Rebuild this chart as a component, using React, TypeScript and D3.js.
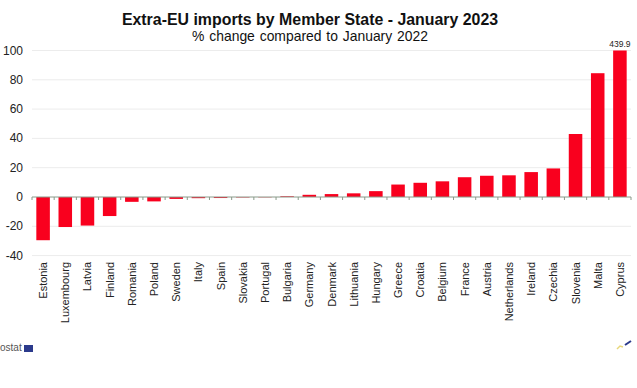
import React from "react";
import * as d3 from "d3";

const categories = ["Estonia","Luxembourg","Latvia","Finland","Romania","Poland","Sweden","Italy","Spain","Slovakia","Portugal","Bulgaria","Germany","Denmark","Lithuania","Hungary","Greece","Croatia","Belgium","France","Austria","Netherlands","Ireland","Czechia","Slovenia","Malta","Cyprus"];
const values = [-29.5,-20.5,-19.5,-13,-3.3,-3,-1.3,-0.8,-0.7,-0.3,-0.2,0.5,1.5,2,2.5,4,8.5,9.7,10.7,13.5,14.5,14.8,17,19.5,43,84.5,439.9];
const yTicks = [100,80,60,40,20,0,-20,-40];
const titleText = "Extra-EU imports by Member State - January 2023";
const subtitleText = "% change compared to January 2022";
const font = "'Liberation Sans', Arial, sans-serif";

export default function App() {
  const x = d3.scaleBand().domain(categories).range([32, 631]).paddingInner(0.39).paddingOuter(0.195);
  const y = d3.scaleLinear().domain([-40, 100]).range([255.6, 50.5]).clamp(true);
  const zero = y(0);
  const step = x.step();
  return (
    <svg width={637} height={388} style={{ position: "fixed", left: 0, top: 0, background: "#fff" }} fontFamily={font}>
      <text x={310} y={25} textAnchor="middle" fontSize={15.9} fontWeight="bold" fill="#111">{titleText}</text>
      <text x={310} y={41} textAnchor="middle" fontSize={13.9} fill="#111" style={{ wordSpacing: "1px" }}>{subtitleText}</text>
      {yTicks.map((t) => (
        <g key={t}>
          {t !== 0 && <line x1={32} x2={631} y1={y(t)} y2={y(t)} stroke="#ececec" strokeWidth={1} />}
          <text x={23} y={y(t) + 4} textAnchor="end" fontSize={12} fill="#222">{t}</text>
        </g>
      ))}
      {categories.map((c, i) => {
        const v = values[i];
        return <rect key={c} x={x(c)} width={x.bandwidth()} y={Math.min(y(v), zero)} height={Math.abs(y(v) - zero)} fill="#f9001e" />;
      })}
      <line x1={32} x2={631} y1={zero} y2={zero} stroke="#8a9a8a" strokeWidth={1} />
      {d3.range(categories.length + 1).map((i) => (
        <line key={i} x1={32 + i * step} x2={32 + i * step} y1={zero} y2={zero + 3} stroke="#8a9a8a" strokeWidth={1} />
      ))}
      {categories.map((c) => {
        const cx = x(c)! + x.bandwidth() / 2;
        return (
          <text key={c} transform={`translate(${cx + 4},262) rotate(-90)`} textAnchor="end" fontSize={11} fill="#222">{c}</text>
        );
      })}
      <text x={x("Cyprus")! + x.bandwidth() / 2} y={47} textAnchor="middle" fontSize={8.5} fill="#222">{values[26].toFixed(1)}</text>
      <text x={0} y={351} fontSize={10} fill="#555">ostat</text>
      <rect x={24} y={345} width={9} height={7} fill="#2b3a8c" />
      <path d="M617,349 L620,346 L623,347" fill="none" stroke="#e8d77a" strokeWidth={1.5} />
      <path d="M625,345 L631,341" fill="none" stroke="#2b3a8c" strokeWidth={2} />
    </svg>
  );
}
